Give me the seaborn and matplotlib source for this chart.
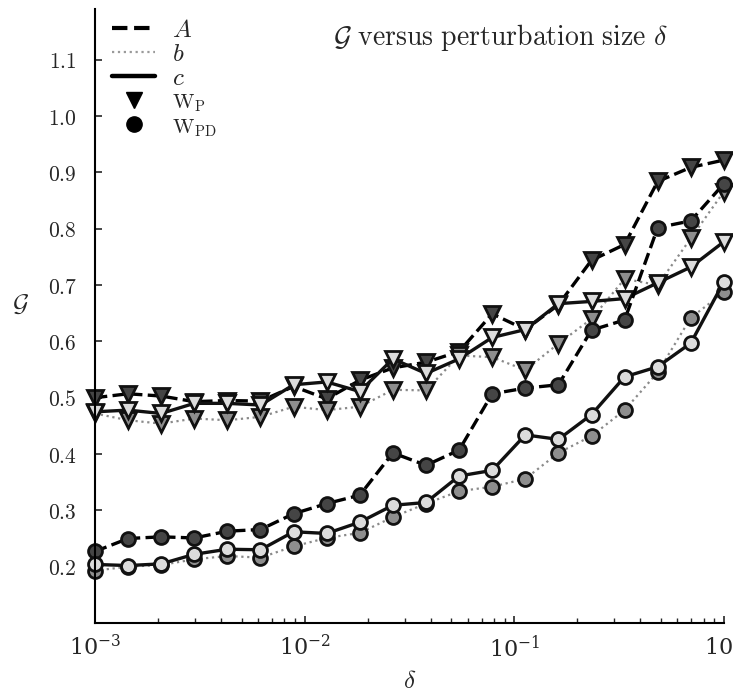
import matplotlib
matplotlib.use("Agg")
import matplotlib.pyplot as plt
import matplotlib.ticker as mticker
from matplotlib.lines import Line2D
import pandas as pd
import seaborn as sns

# Data
delta = [0.001, 0.001438, 0.002069, 0.002976, 0.004281, 0.006158, 0.008859,
         0.012743, 0.01833, 0.026367, 0.037927, 0.054556, 0.078476, 0.112884,
         0.162378, 0.233572, 0.335982, 0.483293, 0.695193, 1.0]

A_P = [0.500, 0.507, 0.503, 0.493, 0.495, 0.494, 0.520, 0.498, 0.531, 0.553,
       0.563, 0.582, 0.649, 0.621, 0.665, 0.744, 0.772, 0.884, 0.909, 0.922]
b_P = [0.472, 0.460, 0.454, 0.463, 0.460, 0.466, 0.484, 0.478, 0.484, 0.514,
       0.513, 0.575, 0.572, 0.549, 0.596, 0.640, 0.711, 0.700, 0.783, 0.866]
c_P = [0.475, 0.478, 0.472, 0.490, 0.490, 0.487, 0.523, 0.528, 0.511, 0.569,
       0.543, 0.569, 0.607, 0.621, 0.667, 0.671, 0.676, 0.704, 0.732, 0.777]

A_PD = [0.227, 0.250, 0.253, 0.251, 0.263, 0.266, 0.294, 0.312, 0.327, 0.402,
        0.380, 0.407, 0.507, 0.517, 0.523, 0.620, 0.638, 0.802, 0.814, 0.880]
b_PD = [0.193, 0.200, 0.203, 0.213, 0.219, 0.216, 0.236, 0.251, 0.260, 0.288,
        0.312, 0.334, 0.342, 0.356, 0.402, 0.432, 0.478, 0.545, 0.642, 0.687]
c_PD = [0.204, 0.202, 0.205, 0.222, 0.231, 0.230, 0.262, 0.259, 0.279, 0.309,
        0.314, 0.361, 0.371, 0.434, 0.426, 0.470, 0.537, 0.555, 0.597, 0.706]

ytick_vals = [0.2, 0.3, 0.4, 0.5, 0.6, 0.7, 0.8, 0.9, 1.0, 1.1]

# Aesthetic configuration
sns.set_style("ticks")
plt.rcParams['font.family'] = ['DejaVu Serif']
plt.rcParams['mathtext.fontset'] = 'cm'

fig = plt.figure(figsize=(7.33, 7.0), dpi=100)
ax = fig.add_axes([0.1296, 0.11, 0.858, 0.877])

styles = {
    'A': dict(color='black', linestyle='--', linewidth=2.4, fill='#454545'),
    'b': dict(color='#8a8a8a', linestyle=':', linewidth=1.6, fill='#8e8e8e'),
    'c': dict(color='#111111', linestyle='-', linewidth=2.4, fill='#dcdcdc'),
}

series = [
    ('A', 'v', A_P), ('b', 'v', b_P), ('c', 'v', c_P),
    ('A', 'o', A_PD), ('b', 'o', b_PD), ('c', 'o', c_PD),
]

for name, mk, vals in series:
    st = styles[name]
    df = pd.DataFrame({'delta': delta, 'G': vals})
    sns.lineplot(data=df, x='delta', y='G', ax=ax,
                 color=st['color'], linestyle=st['linestyle'],
                 linewidth=st['linewidth'], marker=mk,
                 markersize=11 if mk == 'v' else 10,
                 markerfacecolor=st['fill'], markeredgecolor='#111111',
                 markeredgewidth=2.0, clip_on=False, legend=False)

ax.set_xscale('log')
ax.set_xlim(1e-3, 1.0)
ax.set_ylim(0.1, 1.19)
ax.set_yticks(ytick_vals)
ax.set_yticklabels([f'${v:.1f}$' for v in ytick_vals])
ax.xaxis.set_minor_locator(mticker.LogLocator(base=10, subs=range(2, 10)))
ax.xaxis.set_minor_formatter(mticker.NullFormatter())

ax.tick_params(axis='y', which='major', direction='in', length=5,
               width=1.2, labelsize=15.5, pad=13)
ax.tick_params(axis='x', which='major', direction='in', length=5,
               width=1.2, labelsize=16, pad=9)
ax.tick_params(axis='x', which='minor', direction='in', length=3.5, width=1.0)

sns.despine(ax=ax)
for sp in ['left', 'bottom']:
    ax.spines[sp].set_linewidth(1.5)
    ax.spines[sp].set_color('black')

ax.set_xlabel(r'$\delta$', fontsize=18, labelpad=6)
ax.set_ylabel(r'$\mathcal{G}$', fontsize=18, rotation=0)
ax.yaxis.set_label_coords(-0.118, 0.5)

ax.text(0.645, 0.954, r'$\mathcal{G}\ \mathrm{versus\ perturbation\ size}\ \delta$',
        transform=ax.transAxes, ha='center', va='center', fontsize=20)

handles = [
    Line2D([], [], color='black', linestyle='--', linewidth=3.0),
    Line2D([], [], color='#9a9a9a', linestyle=':', linewidth=1.6),
    Line2D([], [], color='black', linestyle='-', linewidth=3.2),
    Line2D([], [], color='black', linestyle='none', marker='v', markersize=11),
    Line2D([], [], color='black', linestyle='none', marker='o', markersize=11),
]
labels = [r'$A$', r'$b$', r'$c$', r'$\mathrm{W_P}$', r'$\mathrm{W_{PD}}$']
leg = ax.legend(handles, labels, loc='upper left', bbox_to_anchor=(0.0, 1.013),
                frameon=False, fontsize=18, handlelength=1.7, labelspacing=0.05,
                handletextpad=0.7, borderaxespad=0.3)
for t in leg.get_texts()[3:]:
    t.set_fontsize(15)

fig.savefig('out.png', dpi=100)
